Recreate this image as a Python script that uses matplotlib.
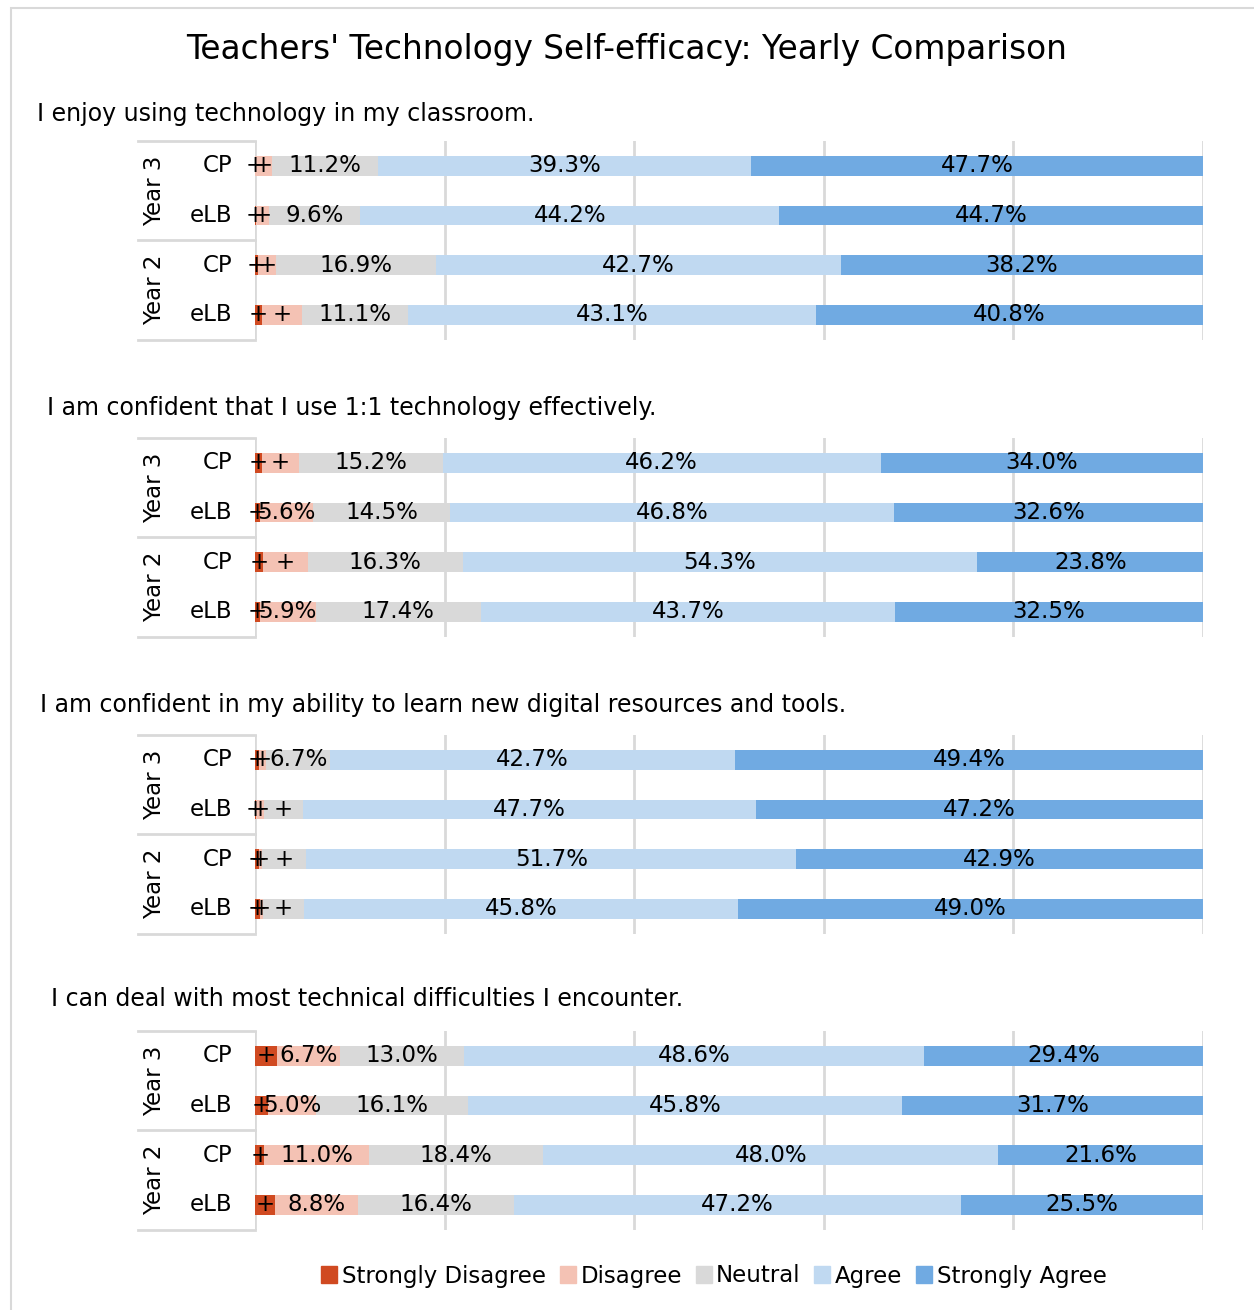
import numpy as np
import matplotlib.pyplot as plt
from matplotlib.patches import Patch, Rectangle

TITLE = "Teachers' Technology Self-efficacy: Yearly Comparison"

questions = [
    "I enjoy using technology in my classroom.",
    "I am confident that I use 1:1 technology effectively.",
    "I am confident in my ability to learn new digital resources and tools.",
    "I can deal with most technical difficulties I encounter.",
]
rows = ["CP", "eLB", "CP", "eLB"]
years = ["Year 3", "Year 2"]
categories = ["Strongly Disagree", "Disagree", "Neutral", "Agree", "Strongly Agree"]

# percent per question, rows top to bottom: Y3 CP, Y3 eLB, Y2 CP, Y2 eLB
strongly_disagree = [[0.0, 0.1, 0.3, 0.7], [0.7, 0.5, 0.8, 0.5], [0.4, 0.1, 0.4, 0.5], [2.3, 1.4, 1.0, 2.1]]
disagree = [[1.8, 1.4, 1.9, 4.3], [3.9, 5.6, 4.8, 5.9], [0.8, 0.8, 0.3, 0.3], [6.7, 5.0, 11.0, 8.8]]
neutral = [[11.2, 9.6, 16.9, 11.1], [15.2, 14.5, 16.3, 17.4], [6.7, 4.2, 4.7, 4.4], [13.0, 16.1, 18.4, 16.4]]
agree = [[39.3, 44.2, 42.7, 43.1], [46.2, 46.8, 54.3, 43.7], [42.7, 47.7, 51.7, 45.8], [48.6, 45.8, 48.0, 47.2]]
strongly_agree = [[47.7, 44.7, 38.2, 40.8], [34.0, 32.6, 23.8, 32.5], [49.4, 47.2, 42.9, 49.0], [29.4, 31.7, 21.6, 25.5]]

colors = ["#D04A21", "#F4C2B4", "#D9D9D9", "#C0D9F1", "#70AAE2"]
grid_color = "#D9D9D9"

W, H = 1254, 1310
FS = 16.5

# panel layout in pixels (top of first bar row, row spacing) and question text position
panel_tops = [141, 438, 735, 1031]
row_step = 49.7
question_pos = [(37, 114), (47, 408), (40, 705), (51, 999)]
ax_left, ax_right = 255, 1203


def px_x(x):
    return x / W


def px_y(y):
    return 1 - y / H


def plotter():
    fig = plt.figure(figsize=(W / 100, H / 100), dpi=100)
    fig.add_artist(Rectangle((px_x(11), -0.01), 1.1, px_y(8) + 0.01, transform=fig.transFigure,
                             fill=False, edgecolor=grid_color, lw=1.5))
    fig.text(0.5, px_y(50), TITLE, ha="center", va="center", fontsize=23.6)

    series = [strongly_disagree, disagree, neutral, agree, strongly_agree]
    for q in range(4):
        top = panel_tops[q]
        bottom = top + 4 * row_step
        ax = fig.add_axes([px_x(ax_left), px_y(bottom), px_x(ax_right - ax_left),
                           (bottom - top) / H])
        y = np.arange(4)
        left = np.zeros(4)
        for k in range(5):
            vals = np.array(series[k][q])
            ax.barh(y, vals, left=left, height=0.4, color=colors[k], zorder=2)
            for i in range(4):
                cx = left[i] + vals[i] / 2
                label = f"{vals[i]:.1f}%" if vals[i] >= 5 else "+"
                ax.text(cx, y[i], label, ha="center", va="center", fontsize=FS, zorder=3)
            left += vals

        ax.set_xlim(0, 100)
        ax.set_ylim(3.5, -0.5)
        ax.set_xticks([0, 20, 40, 60, 80, 100])
        ax.set_yticks([])
        ax.tick_params(length=0, labelbottom=False)
        ax.grid(axis="x", color=grid_color, lw=2, zorder=0)
        for s in ax.spines.values():
            s.set_visible(False)

        trans = ax.get_yaxis_transform()
        for i, r in enumerate(rows):
            ax.text(-0.024, i, r, transform=trans, ha="right", va="center", fontsize=FS)
        for g, yr in enumerate(years):
            ax.text(-0.106, 2 * g + 0.5, yr, transform=trans, ha="center", va="center",
                    rotation=90, fontsize=FS)
        for yl in [-0.5, 1.5, 3.5]:
            ax.plot([-0.123, 0], [yl, yl], transform=trans, color=grid_color, lw=2, clip_on=False)

        qx, qy = question_pos[q]
        fig.text(px_x(qx), px_y(qy), questions[q], ha="left", va="center", fontsize=17)

    handles = [Patch(color=c) for c in colors]
    fig.legend(handles, categories, loc="center", bbox_to_anchor=(px_x(714), px_y(1276)),
               ncol=5, frameon=False, fontsize=FS, handlelength=0.7, handleheight=0.7,
               handletextpad=0.2, columnspacing=0.6)
    return fig


if __name__ == "__main__":
    plotter()
    plt.savefig("out.png", dpi=100)
